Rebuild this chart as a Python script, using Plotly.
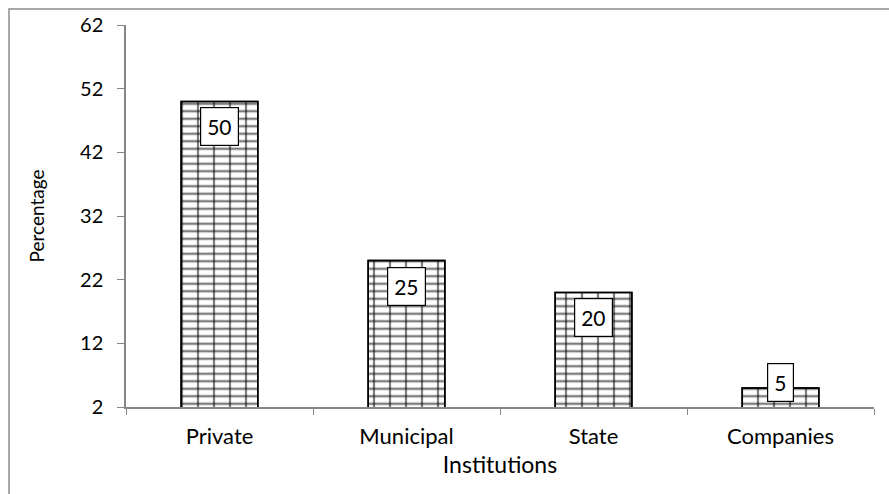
import plotly.graph_objects as go

categories = ["Private", "Municipal", "State", "Companies"]
values = [50, 25, 20, 5]
y_ticks = [2, 12, 22, 32, 42, 52, 62]

FONT = "Lato"
AX = "#868686"

fig = go.Figure()
# horizontal mortar lines
fig.add_trace(go.Bar(
    x=categories, y=values, width=0.41,
    marker=dict(color="white", line=dict(color="black", width=1.5),
                pattern=dict(shape="-", fgcolor="black", bgcolor="white", size=7.5, solidity=0.32)),
    hoverinfo="skip", showlegend=False))
# vertical joints
fig.add_trace(go.Bar(
    x=categories, y=values, width=0.41,
    marker=dict(color="rgba(0,0,0,0)", line=dict(color="black", width=1.5),
                pattern=dict(shape="|", fgcolor="black", bgcolor="rgba(0,0,0,0)", size=16, solidity=0.14)),
    hoverinfo="skip", showlegend=False))

# data labels: inside end, boxed
units_per_px = 60 / 384
min_top = 2 + 50 * units_per_px
for c, v in zip(categories, values):
    top = max(v, min_top)
    fig.add_annotation(x=c, y=top, yanchor="top", yshift=-6, text=str(v), showarrow=False,
                       font=dict(family=FONT, size=21, color="black"),
                       bgcolor="white", bordercolor="black", borderwidth=1.2, borderpad=6)

fig.add_shape(type="rect", xref="paper", yref="paper", x0=-0.1564, y0=-0.5, x1=1.2, y1=1.0417,
              line=dict(color="#8c8c8c", width=1.5), fillcolor="rgba(0,0,0,0)", layer="below")

fig.update_layout(
    width=889, height=494,
    margin=dict(l=126, r=15, t=23, b=87),
    paper_bgcolor="white", plot_bgcolor="white",
    barmode="overlay", bargap=0.59,
    font=dict(family=FONT, size=20, color="black"),
    xaxis=dict(type="category", showline=True, linecolor=AX, linewidth=1.5,
               ticks="outside", tickson="boundaries", ticklen=6, tickcolor=AX,
               showgrid=False, title=dict(text="Institutions", standoff=9, font=dict(size=23)),
               tickfont=dict(size=22), ticklabelstandoff=9),
    yaxis=dict(range=[2, 62], tickvals=y_ticks, showline=True, linecolor=AX, linewidth=1.5,
               ticks="outside", ticklen=7, tickcolor=AX, showgrid=False, zeroline=False,
               title=dict(text="Percentage", standoff=30, font=dict(size=19)),
               tickfont=dict(size=20), ticklabelstandoff=10),
)

fig.write_html("out.html", config={"displayModeBar": False},
               post_script="document.body.style.margin='0px';")
